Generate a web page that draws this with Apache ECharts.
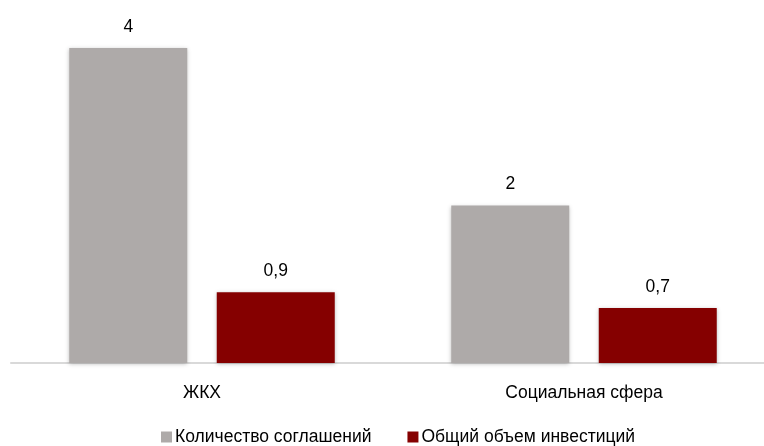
<!DOCTYPE html>
<html><head><meta charset="utf-8">
<script src="https://cdn.jsdelivr.net/npm/echarts@6/dist/echarts.min.js"></script>
<style>html,body{margin:0;padding:0;background:#fff;overflow:hidden}#c{width:786px;height:446px}</style>
</head><body><div id="c"></div>
<script>
const categories = ['ЖКХ', 'Социальная сфера'];
const seriesNames = ['Количество соглашений', 'Общий объем инвестиций'];
const agreements = [4, 2];
const investments = [0.9, 0.7];
const FONT = "'Liberation Sans', Arial, sans-serif";
const chart = echarts.init(document.getElementById('c'), null, {renderer: 'canvas'});
const fmt = p => String(p.value).replace('.', ',');
const lbl = {show: true, position: 'top', distance: 12, color: '#000', fontFamily: FONT, fontSize: 17.5, formatter: fmt};
chart.setOption({
  animation: false,
  grid: {left: 11, right: 11, top: 48, bottom: 83, containLabel: false},
  legend: {
    data: seriesNames, left: 156, bottom: -5, itemWidth: 11, itemHeight: 11, itemGap: 36,
    icon: 'rect',
    textStyle: {fontFamily: FONT, fontSize: 17.5, color: '#000', padding: [0, 0, 0, -2]}
  },
  xAxis: {
    type: 'category', data: categories,
    axisLine: {lineStyle: {color: '#D9D9D9', width: 2}},
    axisTick: {show: false},
    axisLabel: {fontFamily: FONT, fontSize: 17.5, color: '#000', margin: 21}
  },
  yAxis: {type: 'value', min: 0, max: 4, show: false, splitLine: {show: false}},
  series: [
    {name: seriesNames[0], type: 'bar', data: agreements, barWidth: 118, barGap: '25%',
     itemStyle: {color: '#AEAAA9', shadowColor: 'rgba(0,0,0,0.25)', shadowBlur: 4, shadowOffsetY: 1}, label: lbl},
    {name: seriesNames[1], type: 'bar', data: investments, barWidth: 118,
     itemStyle: {color: '#850000', shadowColor: 'rgba(0,0,0,0.25)', shadowBlur: 4, shadowOffsetY: 1}, label: lbl}
  ]
});
</script></body></html>
